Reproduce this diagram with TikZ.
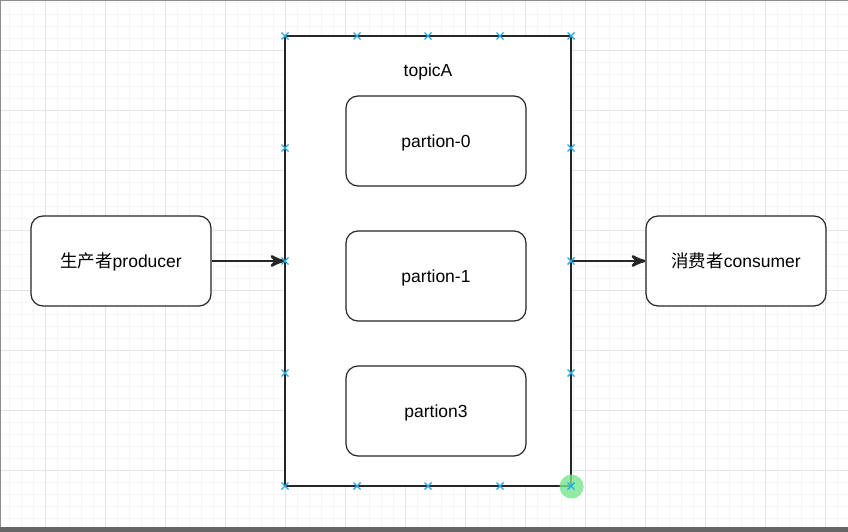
\documentclass[tikz,border=0pt]{standalone}
\usepackage{fontspec}
\setmainfont{Liberation Sans}
\newfontfamily\cjk{Noto Sans CJK SC}
\usepackage{tikz}
\usetikzlibrary{arrows}
\usetikzlibrary{decorations.markings}
\usetikzlibrary{positioning}
\definecolor{gridminor}{RGB}{246,246,246}
\definecolor{gridmajor}{RGB}{228,228,228}
\definecolor{pinblue}{RGB}{40,170,230}
\definecolor{hoverdot}{RGB}{120,230,140}
\tikzset{box/.style = {draw=black!85, line width=1.2pt, rounded corners=12pt,
                       minimum width=180pt, minimum height=90pt, fill=white,
                       inner sep=0, text height=12.5pt, text depth=0pt,
                       font=\fontsize{17.5}{20}\selectfont}}
\tikzset{topicbox/.style = {draw=black!85, line width=1.2pt, fill=white,
                            minimum width=286pt, minimum height=450pt, inner sep=0}}
\tikzset{flow/.style = {draw=black!85, line width=1.2pt, shorten >=1pt,
                        decoration={markings,
                                    mark=at position 1 with {\arrow[scale=2.2]{stealth'}}},
                        postaction={decorate}}}
\tikzset{pin/.style = {draw=pinblue, line width=1.4pt}}

\begin{document}
\begin{tikzpicture}[x=1pt, y=-1pt]
      \useasboundingbox (0, 0) rectangle (848, 532);
      \fill [white] (0, 0) rectangle (848, 532);

      % grid
      \foreach \gx in {9, 21, ..., 848} \draw [gridminor, line width=0.6pt] (\gx, 0) -- (\gx, 532);
      \foreach \gy in {2, 14, ..., 532} \draw [gridminor, line width=0.6pt] (0, \gy) -- (848, \gy);
      \foreach \gx in {45, 105, ..., 848} \draw [gridmajor, line width=0.8pt] (\gx, 0) -- (\gx, 532);
      \foreach \gy in {50, 110, ..., 532} \draw [gridmajor, line width=0.8pt] (0, \gy) -- (848, \gy);
      \draw [black!45, line width=1pt] (0.5, 532) -- (0.5, 0.5) -- (848, 0.5);
      \fill [black!60] (0, 527) rectangle (848, 532);

      \node [topicbox] (topic) at (428, 261) {};
      \node [font=\fontsize{17.5}{20}\selectfont, text height=12.5pt, text depth=0pt,
             inner sep=0] (title) at (428, 70) {topicA};

      \node [box] (p0) at (436, 141) {partion-0};
      \node [box] (p1) at (436, 276) {partion-1};
      \node [box] (p3) at (436, 411) {partion3};

      \node [box] (producer) at (121, 261) {{\cjk 生产者}producer};
      \node [box] (consumer) at (736, 261) {{\cjk 消费者}consumer};

      \draw [flow] (producer) -- (topic);
      \draw [flow] (topic) -- (consumer);

      % hover marks
      \fill [hoverdot, opacity=0.8] (topic.south east) circle (12);
      \foreach \px/\py in {285/36, 357/36, 428/36, 500/36, 571/36,
                           285/486, 357/486, 428/486, 500/486, 571/486,
                           285/148, 285/261, 285/373, 571/148, 571/261, 571/373}
        \draw [pin] (\px-3.5, \py-3.5) -- (\px+3.5, \py+3.5) (\px-3.5, \py+3.5) -- (\px+3.5, \py-3.5);
    \end{tikzpicture}
\end{document}
